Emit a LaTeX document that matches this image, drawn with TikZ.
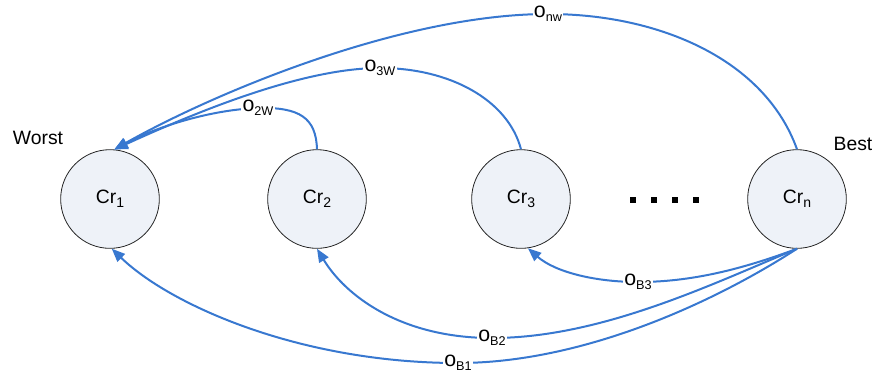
\documentclass[tikz,border=0pt]{standalone}
\usepackage{fontspec}
\setmainfont{Liberation Sans}
\usetikzlibrary{arrows.meta}
\definecolor{linkblue}{RGB}{56,120,208}
\definecolor{crfill}{RGB}{238,242,248}
\tikzset{
  crit/.style={circle, draw=black!85, fill=crfill, line width=0.6pt, minimum size=74pt, inner sep=0pt, font=\fontsize{14.5}{17}\selectfont},
  link/.style={draw=linkblue, line width=1.5pt, -{Triangle[length=10pt,width=8pt]}},
  lbl/.style={fill=white, inner sep=1pt, font=\fontsize{16}{18}\selectfont},
  side/.style={font=\fontsize{14.5}{17}\selectfont}
}
\newcommand{\crsub}[1]{Cr\raisebox{-2.8pt}{\fontsize{10.5}{12}\selectfont #1}}
\newcommand{\osub}[1]{o\raisebox{-3.2pt}{\fontsize{9.5}{11}\selectfont #1}}
\begin{document}
\begin{tikzpicture}[x=0.75pt, y=-0.75pt]
    \useasboundingbox (0,0) rectangle (875,376);

    % criteria
    \node[crit] (cr1) at (110,199) {\crsub{1}};
    \node[crit] (cr2) at (317,199) {\crsub{2}};
    \node[crit] (cr3) at (521,199) {\crsub{3}};
    \node[crit] (crn) at (797,199) {\crsub{n}};
    \node[side] (worst) at (38,138) {Worst};
    \node[side] (best) at (853,144) {Best};

    % dots
    \foreach \x in {633,654,675,696}
        \fill (\x-3.3,196.7) rectangle (\x+3.3,203.3);

    % towards worst
    \draw[link] (crn.north) .. controls (765,60) and (660,14) .. (548,14) node[lbl] {\osub{nw}}
        .. controls (400,14) and (210,95) .. (cr1.85);
    \draw[link] (cr3.north) .. controls (508,100) and (450,68) .. (380,68) node[lbl] {\osub{3W}}
        .. controls (300,68) and (190,115) .. (cr1.85);
    \draw[link] (cr2.north) .. controls (316,118) and (300,107) .. (258,108) node[lbl] {\osub{2W}}
        .. controls (205,110) and (150,130) .. (cr1.85);

    % from best
    \draw[link] (crn.south) .. controls (740,270) and (690,282) .. (638,282) node[lbl] {\osub{B3}}
        .. controls (595,282) and (555,272) .. (cr3.-82);
    \draw[link] (crn.south) .. controls (710,285) and (600,338) .. (492,338) node[lbl] {\osub{B2}}
        .. controls (400,338) and (345,295) .. (cr2.-90);
    \draw[link] (crn.south) .. controls (710,305) and (580,363) .. (458,363) node[lbl] {\osub{B1}}
        .. controls (300,363) and (170,305) .. (cr1.-88);
\end{tikzpicture}
\end{document}
